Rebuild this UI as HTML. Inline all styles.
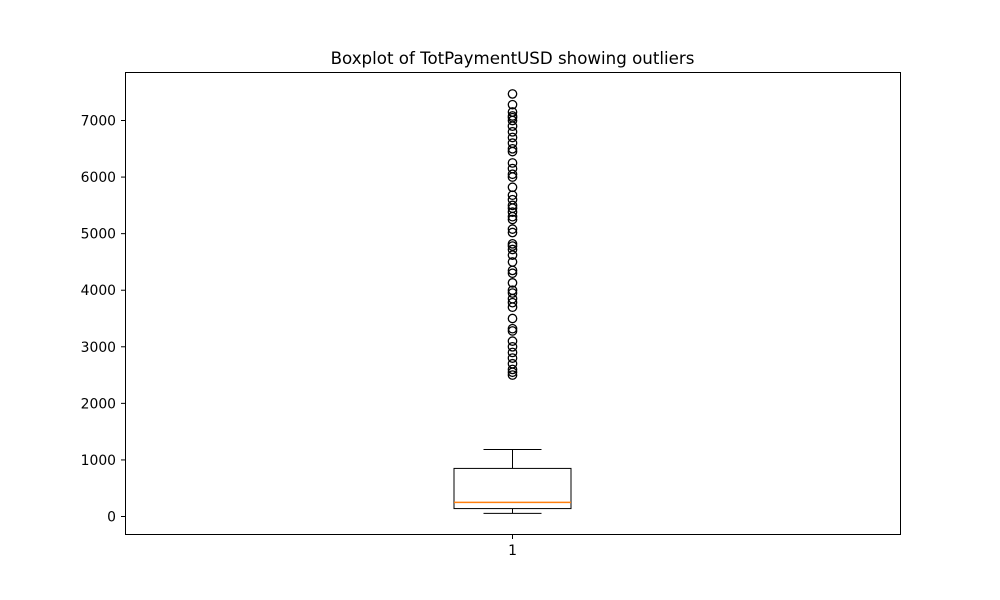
<!DOCTYPE html>
<html><head><meta charset="utf-8"><style>body{margin:0;background:#fff}svg{display:block;font-family:"DejaVu Sans","Liberation Sans",sans-serif}</style></head>
<body>
<svg id="chart" width="1000" height="600">
<rect width="1000" height="600" fill="#fff"/>
<text x="512.5" y="64" text-anchor="middle" font-size="16.67">Boxplot of TotPaymentUSD showing outliers</text>
<g id="plot"></g>
<rect x="125.5" y="72.5" width="775" height="462" fill="none" stroke="#000" stroke-width="1"/>
</svg>
<script>
const categories = ["1"];
const yTicks = [0,1000,2000,3000,4000,5000,6000,7000];
const stats = [55, 140, 250, 850, 1184]; // whislo, q1, median, q3, whishi
const outliers = [7470,7280,7150,7080,7050,7000,6900,6800,6700,6600,6500,6450,6250,6150,6050,6000,5820,5680,5600,5500,5450,5380,5300,5250,5080,5020,4820,4780,4720,4620,4500,4350,4300,4130,4000,3950,3850,3780,3700,3500,3320,3280,3100,3000,2900,2800,2700,2600,2550,2500];
const NS="http://www.w3.org/2000/svg";
const g=document.getElementById('plot');
function y(v){return 516.5-v*0.05657;}
function x(i){return 512.5+i*100;}
function mk(t,a){const e=document.createElementNS(NS,t);for(const k in a)e.setAttribute(k,a[k]);g.appendChild(e);return e;}
yTicks.forEach(v=>{
  const l=mk('line',{x1:121,x2:125,y1:y(v),y2:y(v),stroke:'#000'});
  
  
  const t=mk('text',{x:116,y:y(v)+5,'text-anchor':'end','font-size':'13.9'});
  t.textContent=v;
  
  
});
categories.forEach((c,i)=>{
  const cx=x(i);
  const tk=mk('line',{x1:cx,x2:cx,y1:535,y2:539,stroke:'#000'});
  
  
  const t=mk('text',{x:cx,y:555,'text-anchor':'middle','font-size':'13.9'});
  t.textContent=c;
  
  
  const [lo,q1,med,q3,hi]=stats;
  const bw=58.5, cw=29;
  const box=mk('rect',{x:cx-bw,y:y(q3),width:2*bw,height:y(q1)-y(q3),fill:'none',stroke:'#000'});
  
  
  const m=mk('line',{x1:cx-bw,x2:cx+bw,y1:y(med),y2:y(med),stroke:'#ff7f0e','stroke-width':1.5});
  
  
  [[q3,hi],[q1,lo]].forEach(([a,b])=>{
    const w=mk('line',{x1:cx,x2:cx,y1:y(a),y2:y(b),stroke:'#000'});
    
    
    const cap=mk('line',{x1:cx-cw,x2:cx+cw,y1:y(b),y2:y(b),stroke:'#000'});
    
    
  });
  outliers.forEach(v=>{
    const o=mk('circle',{cx:cx,cy:y(v),r:4.2,fill:'none',stroke:'#000','stroke-width':1.3});
    
    
  });
});
</script>
</body></html>
